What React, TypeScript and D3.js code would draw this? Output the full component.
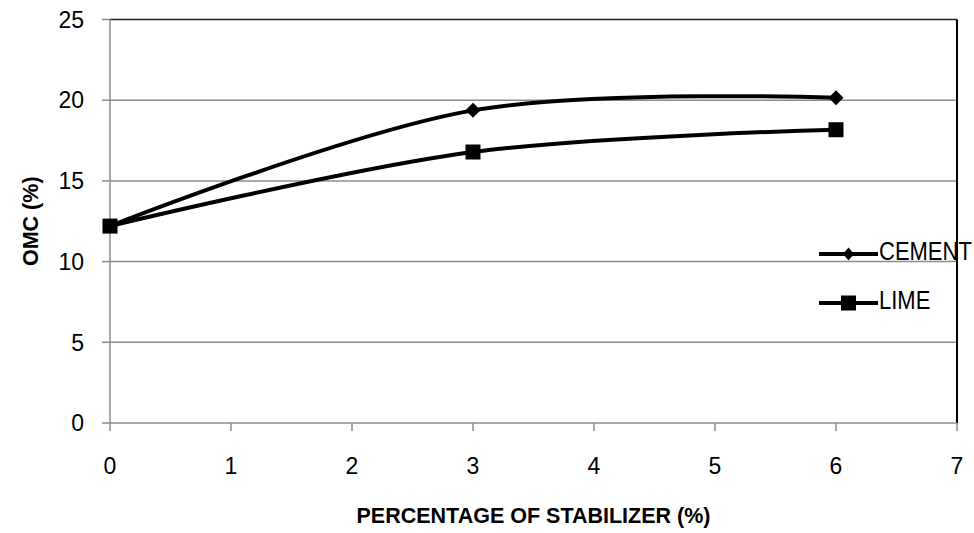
import React from "react";
import * as d3 from "d3";

const stabilizerPct = [0, 3, 6];
const cementOmc = [12.2, 19.37, 20.15];
const limeOmc = [12.2, 16.79, 18.17];
const xTicks = [0, 1, 2, 3, 4, 5, 6, 7];
const yTicks = [0, 5, 10, 15, 20, 25];
const seriesNames = ["CEMENT", "LIME"];

const W = 974;
const H = 533;
const left = 110;
const right = 957;
const top = 19.5;
const bottom = 423;
const font = "'Liberation Sans', Arial, sans-serif";

export default function App() {
  const x = d3.scaleLinear().domain([0, 7]).range([left, right]);
  const y = d3.scaleLinear().domain([0, 25]).range([bottom, top]);
  const line = d3
    .line<[number, number]>()
    .x((d) => x(d[0]))
    .y((d) => y(d[1]))
    .curve(d3.curveCatmullRom.alpha(0.5));

  const cementPts = stabilizerPct.map((p, i) => [p, cementOmc[i]] as [number, number]);
  const limePts = stabilizerPct.map((p, i) => [p, limeOmc[i]] as [number, number]);

  const diamond = (cx: number, cy: number, rx = 7.5, ry = 7.5) =>
    `M${cx},${cy - ry}L${cx + rx},${cy}L${cx},${cy + ry}L${cx - rx},${cy}Z`;

  const legendY = [254, 303];

  return (
    <svg
      width={W}
      height={H}
      style={{ position: "absolute", left: 0, top: 0, background: "#fff" }}
      fontFamily={font}
    >
      {/* gridlines */}
      {yTicks.slice(1, -1).map((t) => (
        <line key={t} x1={left} x2={right} y1={y(t)} y2={y(t)} stroke="#8c8c8c" strokeWidth={1.5} />
      ))}
      {/* plot frame: top and right */}
      <line x1={left} x2={right} y1={top} y2={top} stroke="#222" strokeWidth={1.5} />
      <line x1={right} x2={right} y1={top} y2={bottom} stroke="#000" strokeWidth={2} />
      {/* axes */}
      <line x1={left} x2={left} y1={top} y2={bottom} stroke="#8c8c8c" strokeWidth={1.5} />
      <line x1={left} x2={right} y1={bottom} y2={bottom} stroke="#8c8c8c" strokeWidth={1.5} />
      {yTicks.map((t) => (
        <g key={t}>
          <line x1={left - 8} x2={left} y1={y(t)} y2={y(t)} stroke="#8c8c8c" strokeWidth={1.5} />
          <text x={84} y={y(t)} dy="0.36em" textAnchor="end" fontSize={23} fill="#000">
            {t}
          </text>
        </g>
      ))}
      {xTicks.map((t) => (
        <g key={t}>
          <line x1={x(t)} x2={x(t)} y1={bottom} y2={bottom + 8} stroke="#8c8c8c" strokeWidth={1.5} />
          <text x={x(t)} y={473.5} textAnchor="middle" fontSize={23} fill="#000">
            {t}
          </text>
        </g>
      ))}

      {/* series */}
      <path d={line(limePts) || ""} fill="none" stroke="#000" strokeWidth={4} />
      <path d={line(cementPts) || ""} fill="none" stroke="#000" strokeWidth={4} />
      {cementPts.map((p, i) => (
        <path key={"c" + i} d={diamond(x(p[0]), y(p[1]))} fill="#000" />
      ))}
      {limePts.map((p, i) => (
        <rect key={"l" + i} x={x(p[0]) - 7.5} y={y(p[1]) - 7.5} width={15} height={15} fill="#000" />
      ))}

      {/* legend */}
      {seriesNames.map((name, i) => (
        <g key={name}>
          <line x1={819} x2={878} y1={legendY[i]} y2={legendY[i]} stroke="#000" strokeWidth={4} />
          {i === 0 ? (
            <path d={diamond(848.5, legendY[i], 5.5, 6.5)} fill="#000" />
          ) : (
            <rect x={841} y={legendY[i] - 7.5} width={15} height={15} fill="#000" />
          )}
          <text
            transform={`translate(879, ${legendY[i] + 6}) scale(1, 1.14)`}
            fontSize={22}
            fill="#000"
          >
            {name}
          </text>
        </g>
      ))}

      {/* axis titles */}
      <text x={(left + right) / 2} y={523} textAnchor="middle" fontSize={21.5} fontWeight="bold" fill="#000">
        PERCENTAGE OF STABILIZER (%)
      </text>
      <text
        transform={`translate(38, ${(top + bottom) / 2}) rotate(-90)`}
        textAnchor="middle"
        fontSize={21.5}
        fontWeight="bold"
        fill="#000"
      >
        OMC (%)
      </text>
    </svg>
  );
}
